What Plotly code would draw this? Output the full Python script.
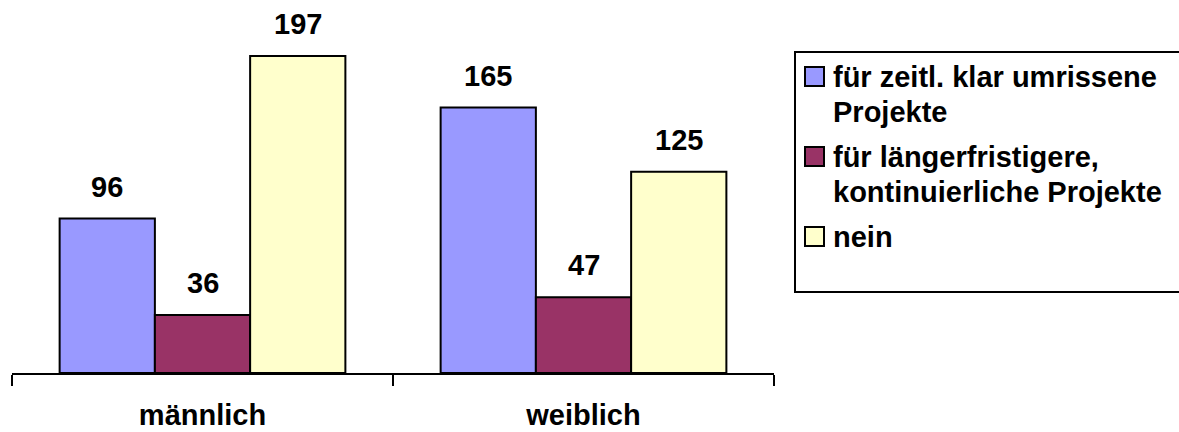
import plotly.graph_objects as go

# --- data -----------------------------------------------------------------
categories = ["männlich", "weiblich"]
series_names = [
    "für zeitl. klar umrissene Projekte",
    "für längerfristigere, kontinuierliche Projekte",
    "nein",
]
legend_lines = [
    ["für zeitl. klar umrissene", "Projekte"],
    ["für längerfristigere,", "kontinuierliche Projekte"],
    ["nein"],
]
values_zeitl = [96, 165]
values_laengerfristig = [36, 47]
values_nein = [197, 125]
series_values = [values_zeitl, values_laengerfristig, values_nein]
colors = ["#9999FF", "#993366", "#FFFFCC"]

# --- layout constants -------------------------------------------------------
W, H = 1179, 432
ML, MR, MT, MB = 12, 405, 19, 59
Y_MAX = 220
BARGAP = 0.25
FONT = "Liberation Sans, Arial, sans-serif"
FS = 29

plot_w = W - ML - MR
plot_h = H - MT - MB


def px_x(px):
    return (px - ML) / plot_w


def px_y(py):
    return (H - MB - py) / plot_h


fig = go.Figure()
for name, vals, col in zip(series_names, series_values, colors):
    fig.add_trace(go.Bar(
        x=categories, y=vals, name=name,
        marker=dict(color=col, line=dict(color="black", width=2)),
        showlegend=False, hoverinfo="x+y+name",
    ))

# value labels above each bar
n = len(series_values)
bar_w_px = plot_w / len(categories) * (1 - BARGAP) / n
annotations = []
for i, vals in enumerate(series_values):
    for cat, v in zip(categories, vals):
        annotations.append(dict(
            x=cat, y=v, xref="x", yref="y", text=str(v), showarrow=False,
            xshift=(i - (n - 1) / 2) * bar_w_px, yshift=32, yanchor="middle",
            font=dict(family=FONT, size=FS, color="black", weight="bold"),
        ))

# legend box drawn with shapes and text
shapes = [dict(
    type="rect", xref="paper", yref="paper",
    x0=px_x(795), x1=px_x(1195), y0=px_y(292), y1=px_y(52),
    line=dict(color="black", width=2), fillcolor="rgba(0,0,0,0)",
)]
LINE_H = 35
SW = 19
item_top = 67
for lines, col in zip(legend_lines, colors):
    shapes.append(dict(
        type="rect", xref="paper", yref="paper",
        x0=px_x(805), x1=px_x(805 + SW), y0=px_y(item_top + SW), y1=px_y(item_top),
        line=dict(color="black", width=2), fillcolor=col,
    ))
    for k, line in enumerate(lines):
        annotations.append(dict(
            x=px_x(831), y=px_y(item_top + 10 + k * LINE_H), xref="paper", yref="paper",
            text=line, showarrow=False, xanchor="left", yanchor="middle",
            font=dict(family=FONT, size=FS, color="black", weight="bold"),
        ))
    item_top += len(lines) * LINE_H + 10

fig.update_layout(
    width=W, height=H,
    margin=dict(l=ML, r=MR, t=MT, b=MB, pad=0, autoexpand=False),
    paper_bgcolor="white", plot_bgcolor="white",
    barmode="group", bargap=BARGAP, bargroupgap=0,
    showlegend=False,
    annotations=annotations, shapes=shapes,
    xaxis=dict(
        type="category", range=[-0.5, len(categories) - 0.5], automargin=False,
        showline=True, linecolor="black", linewidth=2,
        ticks="outside", tickson="boundaries", ticklen=11, tickwidth=2, tickcolor="black",
        showgrid=False, zeroline=False, ticklabelstandoff=15,
        tickfont=dict(family=FONT, size=FS, color="black", weight="bold"),
    ),
    yaxis=dict(range=[0, Y_MAX], visible=False, showgrid=False, zeroline=False),
)

fig.write_html("out.html")
